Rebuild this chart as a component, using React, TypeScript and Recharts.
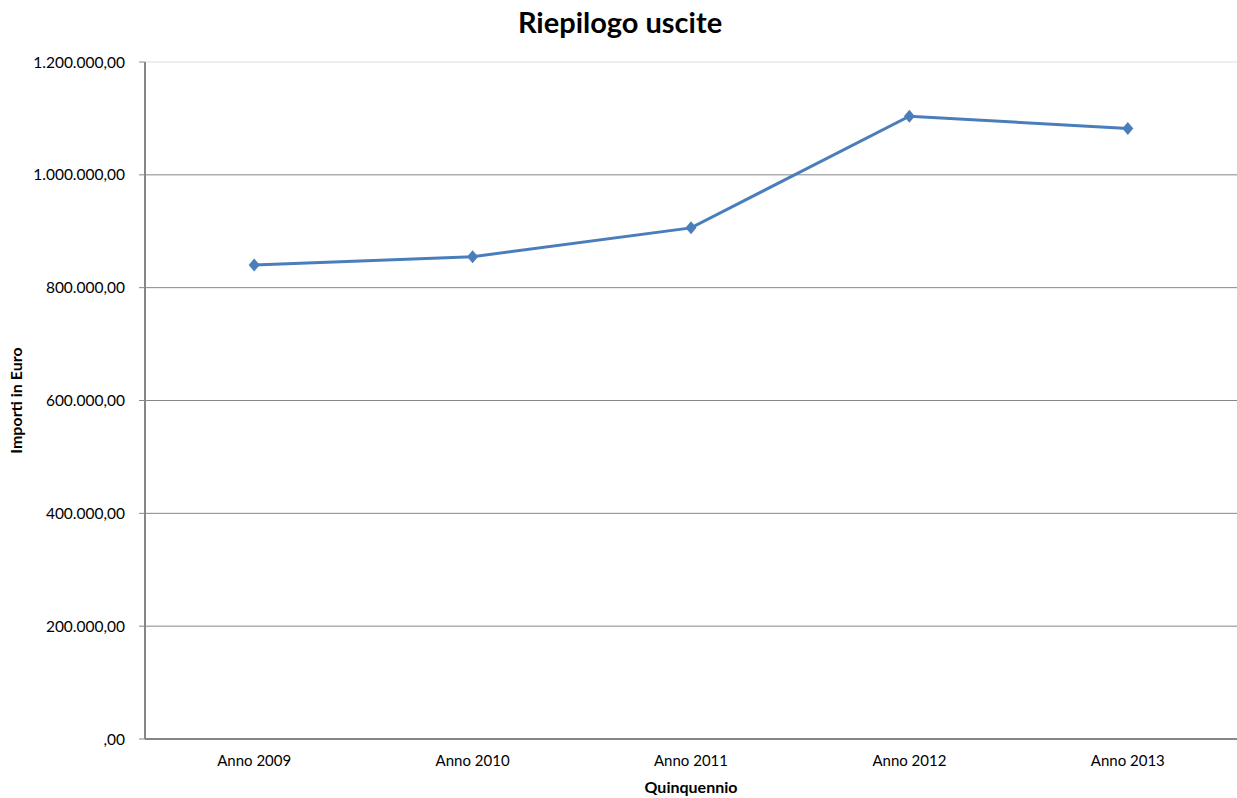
import { LineChart, Line, XAxis, YAxis, ReferenceLine } from "recharts";

const YEARS = ["Anno 2009", "Anno 2010", "Anno 2011", "Anno 2012", "Anno 2013"];
const USCITE = [840000, 855000, 906000, 1104000, 1082000];
const Y_TICKS = [0, 200000, 400000, 600000, 800000, 1000000, 1200000];
const GRID_LINES = [200000, 400000, 600000, 800000, 1000000];
const BOUNDARY_TICKS = [0, 1, 2, 3, 4, 5];
const CENTER_TICKS = [0.5, 1.5, 2.5, 3.5, 4.5];

const data = YEARS.map((name, i) => ({ name, x: i + 0.5, value: USCITE[i] }));

const FONT = "Lato, 'Open Sans', sans-serif";
const GRID = "#868686";
const BLUE = "#4a7ebb";

function fmtEuro(v: number) {
  if (v === 0) return ",00";
  const s = Math.round(v).toString().replace(/\B(?=(\d{3})+(?!\d))/g, ".");
  return s + ",00";
}

function Diamond(props: any) {
  const { cx, cy } = props;
  if (cx == null || cy == null) return null;
  return (
    <polygon
      points={`${cx},${cy - 6.5} ${cx + 5.5},${cy} ${cx},${cy + 6.5} ${cx - 5.5},${cy}`}
      fill={BLUE}
    />
  );
}

export default function App() {
  return (
    <div style={{ position: "absolute", left: 0, top: 0, width: 1237, height: 798, background: "#fff", fontFamily: FONT }}>
      <div
        style={{
          position: "absolute",
          left: 0,
          top: 4,
          width: 1240,
          textAlign: "center",
          fontSize: 29,
          fontWeight: 700,
          color: "#000",
        }}
      >
        Riepilogo uscite
      </div>
      <LineChart
        width={1237}
        height={798}
        data={data}
        margin={{ top: 62, right: 0, left: 0, bottom: 0 }}
        style={{ fontFamily: FONT }}
      >
        <ReferenceLine xAxisId="labels" y={1200000} stroke="#e8e8e8" strokeWidth={1.5} />
        {GRID_LINES.map((v) => (
          <ReferenceLine xAxisId="labels" key={v} y={v} stroke={GRID} strokeWidth={1} />
        ))}
        <XAxis
          xAxisId="labels"
          type="number"
          dataKey="x"
          domain={[0, 5]}
          ticks={CENTER_TICKS}
          tickFormatter={(v: number) => YEARS[Math.floor(v)]}
          tickLine={false}
          axisLine={false}
          tickSize={0}
          tickMargin={15}
          height={58}
          tick={{ fontSize: 15, fill: "#000", fontFamily: FONT }}
          label={{
            content: (p: any) => {
              const vb = p.viewBox || {};
              return (
                <text x={691} y={vb.y + 53} textAnchor="middle" fontSize={16} fontWeight={700} fill="#000" fontFamily={FONT}>
                  Quinquennio
                </text>
              );
            },
          }}
        />
        <XAxis
          xAxisId="bounds"
          type="number"
          dataKey="x"
          domain={[0, 5]}
          ticks={BOUNDARY_TICKS}
          tick={false}
          tickSize={6}
          tickLine={{ stroke: GRID }}
          axisLine={{ stroke: GRID, strokeWidth: 2 }}
          height={1}
        />
        <YAxis
          type="number"
          domain={[0, 1200000]}
          ticks={Y_TICKS}
          width={145}
          tickFormatter={fmtEuro}
          tickSize={6}
          tickMargin={14}
          tickLine={{ stroke: GRID }}
          axisLine={{ stroke: GRID, strokeWidth: 2 }}
          tick={{ fontSize: 15.5, fill: "#000", fontFamily: FONT }}
          label={{
            content: (p: any) => {
              const vb = p.viewBox || {};
              const cy = (vb.y ?? 62) + (vb.height ?? 677) / 2;
              return (
                <text
                  x={22}
                  y={cy}
                  transform={`rotate(-90, 22, ${cy})`}
                  textAnchor="middle"
                  fontSize={16}
                  fontWeight={700}
                  fill="#000"
                  fontFamily={FONT}
                >
                  Importi in Euro
                </text>
              );
            },
          }}
        />
        <Line
          xAxisId="labels"
          type="linear"
          dataKey="value"
          stroke={BLUE}
          strokeWidth={3}
          dot={<Diamond />}
          activeDot={false}
          isAnimationActive={false}
        />
      </LineChart>
    </div>
  );
}
